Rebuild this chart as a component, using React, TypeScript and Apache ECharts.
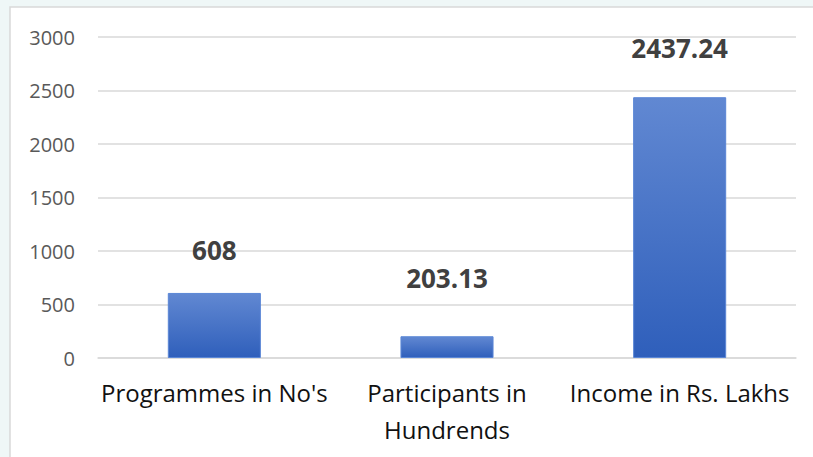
import React, { useEffect, useRef } from "react";
import * as echarts from "echarts";

const categories = ["Programmes in No's", "Participants in\nHundrends", "Income in Rs. Lakhs"];
const values = [608, 203.13, 2437.24];
const labelDistances = [30, 45, 36];
const yTicks = { min: 0, max: 3000, interval: 500 };

export default function App() {
  const ref = useRef<HTMLDivElement>(null);
  useEffect(() => {
    document.body.style.margin = "0";
    const chart = echarts.init(ref.current!, null, { renderer: "svg" });
    chart.setOption({
      animation: false,
      backgroundColor: "#eff7f7",
      graphic: [
        {
          type: "rect",
          shape: { x: 10, y: 7, width: 820, height: 470 },
          style: { fill: "#ffffff", stroke: "#d9d9d9", lineWidth: 1.5 },
          z: -10,
        },
      ],
      grid: { left: 98, right: 17, top: 37, bottom: 99 },
      xAxis: {
        type: "category",
        data: categories,
        axisLine: { lineStyle: { color: "#d9d9d9", width: 1.5 } },
        axisTick: { show: false },
        axisLabel: {
          color: "#111111",
          fontFamily: "Open Sans",
          fontSize: 24,
          lineHeight: 37,
          margin: 16,
          interval: 0,
        },
      },
      yAxis: {
        type: "value",
        min: yTicks.min,
        max: yTicks.max,
        interval: yTicks.interval,
        axisLine: { show: false },
        axisTick: { show: false },
        splitLine: { lineStyle: { color: "#d9d9d9", width: 1.5 } },
        axisLabel: {
          color: "#595959",
          fontFamily: "Open Sans",
          fontSize: 20,
          margin: 23,
          formatter: (v: number) => String(v),
        },
      },
      series: [
        {
          type: "bar",
          barWidth: "40%",
          data: values.map((v, i) => ({
            value: v,
            label: { distance: labelDistances[i] },
          })),
          itemStyle: {
            color: new echarts.graphic.LinearGradient(0, 0, 0, 1, [
              { offset: 0, color: "#6188d2" },
              { offset: 1, color: "#2f5fbb" },
            ]),
            borderColor: "#5a86d6",
            borderWidth: 1,
          },
          label: {
            show: true,
            position: "top",
            color: "#404040",
            fontFamily: "Open Sans",
            fontWeight: "bold",
            fontSize: 26,
            formatter: (p: any) => String(p.value),
          },
        },
      ],
    });
    return () => chart.dispose();
  }, []);
  return <div ref={ref} style={{ width: 813, height: 457 }} />;
}
